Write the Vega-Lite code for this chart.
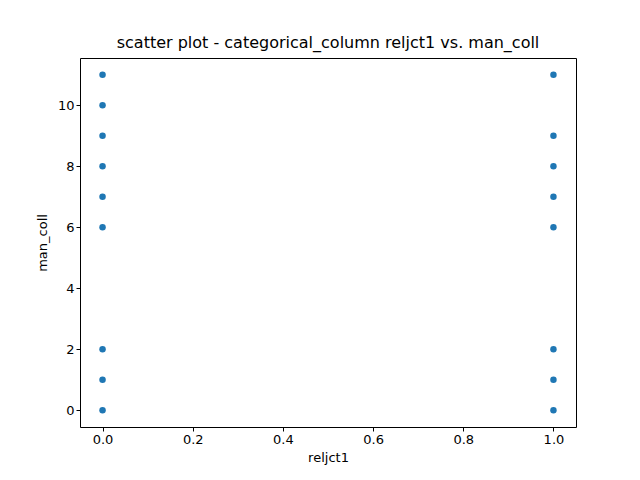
{
  "$schema": "https://vega.github.io/schema/vega-lite/v6.json",
  "width": 496,
  "height": 369,
  "autosize": {"type": "none"},
  "padding": {"left": 80, "top": 58, "right": 64, "bottom": 53},
  "background": "white",
  "config": {
    "font": "DejaVu Sans",
    "view": {"stroke": "black", "strokeWidth": 1},
    "axis": {"grid": false, "domain": false, "tickColor": "black", "tickSize": 4, "labelFontSize": 13, "labelColor": "black", "titleFontSize": 13, "titleFontWeight": "normal", "titleColor": "black"}
  },
  "title": {"text": "scatter plot - categorical_column reljct1 vs. man_coll", "fontSize": 16, "fontWeight": "normal", "offset": 7},
  "data": {
    "values": [
      {"reljct1": 0, "man_coll": 0}, {"reljct1": 0, "man_coll": 1}, {"reljct1": 0, "man_coll": 2},
      {"reljct1": 0, "man_coll": 6}, {"reljct1": 0, "man_coll": 7}, {"reljct1": 0, "man_coll": 8},
      {"reljct1": 0, "man_coll": 9}, {"reljct1": 0, "man_coll": 10}, {"reljct1": 0, "man_coll": 11},
      {"reljct1": 1, "man_coll": 0}, {"reljct1": 1, "man_coll": 1}, {"reljct1": 1, "man_coll": 2},
      {"reljct1": 1, "man_coll": 6}, {"reljct1": 1, "man_coll": 7}, {"reljct1": 1, "man_coll": 8},
      {"reljct1": 1, "man_coll": 9}, {"reljct1": 1, "man_coll": 11}
    ]
  },
  "mark": {"type": "circle", "size": 42, "color": "#1f77b4", "opacity": 1},
  "encoding": {
    "x": {"field": "reljct1", "type": "quantitative", "title": "reljct1",
      "scale": {"domain": [-0.05, 1.05], "nice": false, "zero": false},
      "axis": {"values": [0, 0.2, 0.4, 0.6, 0.8, 1.0], "format": ".1f", "titlePadding": 5}},
    "y": {"field": "man_coll", "type": "quantitative", "title": "man_coll",
      "scale": {"domain": [-0.55, 11.55], "nice": false, "zero": false},
      "axis": {"values": [0, 2, 4, 6, 8, 10], "titlePadding": 8}}
  }
}
